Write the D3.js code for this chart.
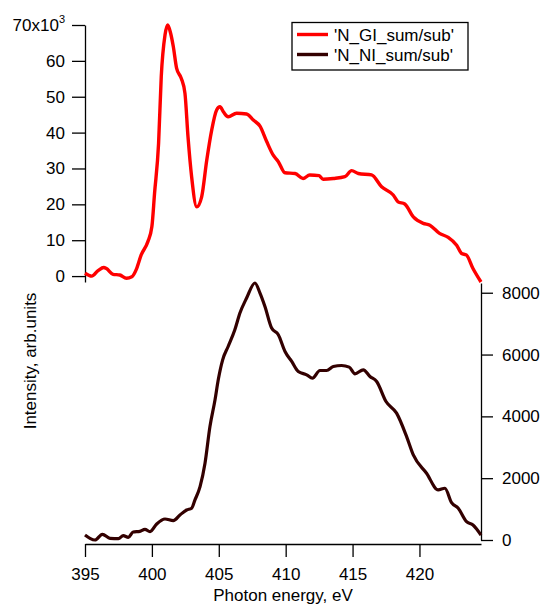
<!DOCTYPE html>
<html>
<head>
<meta charset="utf-8">
<script src="https://cdn.jsdelivr.net/npm/d3@7"></script>
<style>
  body { margin: 0; background: #fff; }
  text { font-family: "Liberation Sans", Arial, Helvetica, sans-serif; fill: #000; }
</style>
</head>
<body>
<div id="chart"></div>
<script>
// photon energy (eV) and intensity for the two spectra
var gi_energy = [395.0, 395.5, 396.0, 396.4, 396.6, 397.1, 397.6, 398.1, 398.5, 398.86, 399.2, 399.7, 400.0, 400.2, 400.5, 400.7, 400.98, 401.18, 401.4, 401.6, 401.85, 402.2, 402.47, 402.7, 402.97, 403.35, 403.72, 404.1, 404.47, 404.84, 405.09, 405.34, 405.7, 406.33, 407.08, 407.58, 408.08, 408.58, 409.07, 409.45, 409.95, 410.7, 411.3, 411.8, 412.5, 412.8, 413.56, 414.43, 414.93, 415.43, 416.42, 417.17, 418.04, 418.4, 418.9, 419.54, 420.28, 420.78, 421.5, 422.15, 422.78, 423.15, 423.5, 424.0, 424.6];
var gi_values = [800, 0, 1600, 2400, 2100, 500, 300, -600, -200, 2100, 5900, 9600, 13800, 23100, 37000, 55600, 67200, 70000, 67700, 64000, 57900, 55100, 51000, 38800, 27700, 19300, 22100, 32300, 40700, 46300, 47200, 45800, 44400, 45400, 45200, 43500, 41800, 37500, 33700, 31900, 28800, 28600, 27200, 28200, 28000, 27000, 27200, 27700, 29400, 28600, 28200, 24900, 22600, 20700, 20100, 16500, 14700, 14200, 11900, 10800, 8600, 6300, 5900, 2100, -1650];

var ni_energy = [395.0, 395.37, 395.75, 396.3, 396.87, 397.5, 397.86, 398.24, 398.6, 399.1, 399.48, 399.86, 400.36, 400.98, 401.6, 402.1, 402.6, 402.97, 403.22, 403.6, 403.97, 404.34, 404.72, 404.96, 405.29, 405.7, 406.2, 406.58, 407.08, 407.7, 408.08, 408.45, 408.95, 409.45, 409.95, 410.45, 410.94, 411.57, 412.0, 412.56, 413.06, 413.56, 414.18, 414.75, 415.18, 415.8, 416.3, 416.8, 417.5, 418.29, 419.04, 419.54, 420.53, 421.4, 421.9, 422.4, 422.9, 423.52, 424.0, 424.6];
var ni_values = [160, 54, 0, 184, 54, 43, 140, 86, 259, 281, 346, 270, 518, 680, 626, 810, 972, 1026, 1296, 1727, 2483, 3671, 4535, 5182, 5830, 6261, 6802, 7343, 7829, 8315, 7991, 7557, 6857, 6640, 6099, 5776, 5451, 5344, 5236, 5484, 5484, 5614, 5646, 5593, 5377, 5506, 5290, 5128, 4480, 4104, 3346, 2753, 2160, 1620, 1674, 1209, 1026, 594, 486, 160];

var x_ticks = [395, 400, 405, 410, 415, 420];
var left_ticks = [0, 10000, 20000, 30000, 40000, 50000, 60000, 70000];
var right_ticks = [0, 2000, 4000, 6000, 8000];
var series_names = ["'N_GI_sum/sub'", "'N_NI_sum/sub'"];
var series_colors = ['#ff0000', '#330000'];

var width = 543;
var height = 605;

var svg = d3.select('#chart')
  .append('svg')
  .attr('width', width)
  .attr('height', height);

// scales
var x_scale = d3.scaleLinear().domain([395, 424.6]).range([85, 481]);
var y_left = d3.scaleLinear().domain([-1650, 70000]).range([282, 25]);
var y_right = d3.scaleLinear().domain([0, 8315]).range([540, 283]);

// axes
function styleAxis(g) {
  g.selectAll('path, line').attr('stroke', '#000').attr('stroke-width', 1.3);
  g.selectAll('text').attr('font-size', 17).attr('fill', '#000')
    .attr('font-family', '"Liberation Sans", Arial, Helvetica, sans-serif');
}

svg.append('g')
  .attr('transform', 'translate(0,544)')
  .call(d3.axisBottom(x_scale).tickValues(x_ticks).tickSize(13).tickSizeOuter(0).tickPadding(11))
  .call(styleAxis);

svg.append('g')
  .attr('transform', 'translate(85,0)')
  .call(d3.axisLeft(y_left).tickValues(left_ticks).tickSize(13).tickSizeOuter(0).tickPadding(7)
    .tickFormat(function(d){ return d === 70000 ? '' : d / 1000; }))
  .call(styleAxis);

// top label with exponent
var top_label = svg.append('text')
  .attr('x', 65)
  .attr('y', y_left(70000) + 6)
  .attr('text-anchor', 'end')
  .attr('font-size', 17);
top_label.append('tspan').text('70x10');
top_label.append('tspan').attr('font-size', 11).attr('dy', -8).text('3');

svg.append('g')
  .attr('transform', 'translate(481,0)')
  .call(d3.axisRight(y_right).tickValues(right_ticks).tickSize(12).tickSizeOuter(0).tickPadding(9)
    .tickFormat(d3.format('d')))
  .call(styleAxis);

// axis titles
svg.append('text')
  .attr('x', 283)
  .attr('y', 601)
  .attr('text-anchor', 'middle')
  .attr('font-size', 17)
  .text('Photon energy, eV');

svg.append('text')
  .attr('transform', 'translate(36,361) rotate(-90)')
  .attr('text-anchor', 'middle')
  .attr('font-size', 17)
  .text('Intensity, arb.units');

// lines
var gi_line = d3.line()
  .x(function(d, i){ return x_scale(gi_energy[i]); })
  .y(function(d){ return y_left(d); })
  .curve(d3.curveMonotoneX);

var ni_line = d3.line()
  .x(function(d, i){ return x_scale(ni_energy[i]); })
  .y(function(d){ return y_right(d); })
  .curve(d3.curveMonotoneX);

svg.append('path')
  .attr('d', ni_line(ni_values))
  .attr('fill', 'none')
  .attr('stroke', series_colors[1])
  .attr('stroke-width', 3.2)
  .attr('stroke-linejoin', 'round');

svg.append('path')
  .attr('d', gi_line(gi_values))
  .attr('fill', 'none')
  .attr('stroke', series_colors[0])
  .attr('stroke-width', 3.4)
  .attr('stroke-linejoin', 'round');

// legend
var legend = svg.append('g');
legend.append('rect')
  .attr('x', 292).attr('y', 22.5)
  .attr('width', 176).attr('height', 47.5)
  .attr('fill', '#fff')
  .attr('stroke', '#000')
  .attr('stroke-width', 1.3);

legend.selectAll('line')
  .data(series_names)
  .enter()
  .append('line')
  .attr('x1', 297).attr('x2', 328)
  .attr('y1', function(d, i){ return 34.5 + i * 20; })
  .attr('y2', function(d, i){ return 34.5 + i * 20; })
  .attr('stroke', function(d, i){ return series_colors[i]; })
  .attr('stroke-width', 3.4);

legend.selectAll('text')
  .data(series_names)
  .enter()
  .append('text')
  .attr('x', 334)
  .attr('y', function(d, i){ return 40.5 + i * 20; })
  .attr('font-size', 17)
  .text(function(d){ return d; });
</script>
</body>
</html>
